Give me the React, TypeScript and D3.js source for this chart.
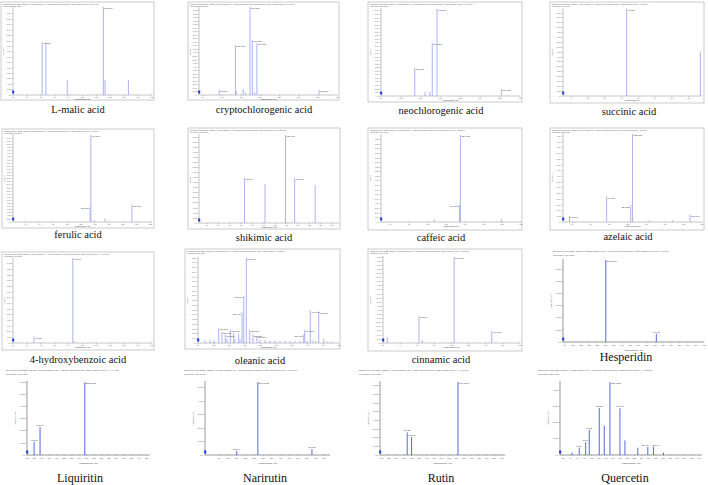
import React from "react";
import * as d3 from "d3";

type Peak = [number, number, number]; // m/z, intensity, annotated (1 = yes)

// ---------- data (m/z, intensity, annotated) ----------
const lMalicPeaks: Peak[] = [
  [71.0129, 19500, 1], [73.74, 19400, 0], [89.0244, 5500, 0],
  [115.0037, 32500, 1], [116.2, 5500, 0], [133.0142, 5600, 0],
];
const cryptoPeaks: Peak[] = [
  [93.0346, 7500, 1], [135.0452, 71000, 1], [137.0244, 6000, 0], [155.035, 8500, 0],
  [161.0244, 3500, 0], [173.0455, 125000, 1], [179.035, 78000, 1], [185.02, 3500, 0],
  [191.0561, 74000, 1], [353.0878, 7500, 1],
];
const neoPeaks: Peak[] = [
  [135.0452, 8000, 1], [161.0244, 1200, 0], [173.0455, 1200, 0],
  [179.035, 15000, 1], [191.0561, 24500, 1], [353.0878, 1900, 1],
];
const succinicPeaks: Peak[] = [[73.029, 8900, 1], [117.0188, 4550, 0]];
const ferulicPeaks: Peak[] = [
  [133.03, 9500, 1], [134.037, 56000, 1], [139.0, 1100, 0], [154.5, 2200, 0], [193.0506, 11200, 1],
];
const shikimicPeaks: Peak[] = [
  [93.0346, 4440, 1], [111.0088, 3830, 0], [129.0193, 8700, 1], [137.0244, 4440, 1], [155.035, 3740, 0],
];
const caffeicPeaks: Peak[] = [
  [107.0502, 5700, 0], [134.0373, 38000, 1], [135.0452, 190000, 1], [179.035, 5700, 0],
];
const azelaicPeaks: Peak[] = [
  [57.0346, 5400, 1], [97.0659, 22300, 1], [123.0815, 14600, 1], [125.0972, 77000, 1],
  [143.1, 1500, 0], [168.3, 1500, 0], [187.0976, 6500, 1],
];
const hydroxybenzoicPeaks: Peak[] = [[65.0396, 11400, 1], [93.0346, 150000, 1], [94.038, 2200, 0]];
const oleanicPeaks: Peak[] = [
  [72.3, 500, 0], [88.3, 700, 0], [101.1, 600, 0], [116.1, 3150, 1], [126.6, 2340, 1],
  [137.1, 1800, 1], [142.6, 900, 0], [153.1, 2790, 1], [163.9, 2160, 0], [168.1, 800, 0],
  [179.9, 1980, 0], [184.1, 700, 0], [190.4, 6480, 1], [195.9, 10000, 1], [204.2, 18000, 1],
  [215.0, 2790, 1], [225.5, 1800, 1], [238.3, 1440, 1], [247.9, 700, 0], [263.8, 600, 0],
  [279.8, 500, 0], [295.8, 500, 0], [311.7, 400, 0], [327.7, 450, 0], [343.6, 400, 0],
  [359.6, 400, 0], [375.6, 500, 0], [387.4, 1800, 1], [390.6, 2790, 1], [397.9, 500, 0],
  [408.4, 6840, 1], [417.1, 500, 0], [426.6, 400, 0], [435.3, 6660, 1], [451.2, 900, 0],
  [461.7, 350, 0], [474.5, 300, 0],
];
const cinnamicPeaks: Peak[] = [
  [25.0, 7300, 0], [62.0, 33000, 1], [65.9, 3100, 0], [103.0553, 105000, 1], [147.0452, 15200, 1],
];
const hesperidinPeaks: Peak[] = [[301.0718, 3380, 1], [609.1825, 340, 1]];
const liquiritinPeaks: Peak[] = [[119.0502, 1100, 1], [135.0088, 2300, 1], [255.0663, 6000, 1]];
const narirutinPeaks: Peak[] = [[151.0037, 300, 1], [271.0612, 5400, 1], [579.1719, 430, 1]];
const rutinPeaks: Peak[] = [[271.0248, 2600, 1], [300.0274, 2100, 1], [609.1461, 8400, 1]];
const quercetinPeaks: Peak[] = [
  [45.0, 150, 0], [65.0037, 450, 1], [83.0139, 800, 1], [93.0346, 1550, 1], [121.0295, 2900, 1],
  [135.0, 1800, 0], [151.0037, 4500, 1], [178.9977, 2880, 1], [193.0, 900, 0],
  [229.0142, 450, 0], [257.0452, 500, 1], [273.0405, 500, 1], [301.0354, 150, 0],
];

const captions = [
  "L-malic acid", "cryptochlorogenic acid", "neochlorogenic acid", "succinic acid",
  "ferulic acid", "shikimic acid", "caffeic acid", "azelaic acid",
  "4-hydroxybenzoic acid", "oleanic acid", "cinnamic acid", "Hesperidin",
  "Liquiritin", "Narirutin", "Rutin", "Quercetin",
];
const precursors = [
  "133.0", "353.1", "353.1", "117.0", "193.1", "173.0", "179.0", "187.1",
  "137.0", "455.4", "147.0", "609.2", "417.1", "579.2", "609.1", "301.0",
];

// ---------- layout ----------
type Rect = { x: number; y: number; w: number; h: number };
type Plot = { l: number; r: number; t: number; b: number };
type Panel = {
  peaks: Peak[];
  xDomain: [number, number];
  kind: "boxed" | "open";
  box: Rect;
  plot: Plot;
  cap: [number, number, number];
};

const panels: Panel[] = [
  { peaks: lMalicPeaks, xDomain: [50, 150], kind: "boxed", box: { x: 1, y: 2, w: 153, h: 98 }, plot: { l: 13, r: 152, t: 7, b: 95 }, cap: [78, 113, 10.5] },
  { peaks: cryptoPeaks, xDomain: [40, 400], kind: "boxed", box: { x: 188, y: 2, w: 151, h: 98 }, plot: { l: 199, r: 337, t: 7, b: 95 }, cap: [264, 113, 10.5] },
  { peaks: neoPeaks, xDomain: [50, 400], kind: "boxed", box: { x: 368, y: 2, w: 154, h: 100 }, plot: { l: 381, r: 520, t: 9, b: 96 }, cap: [441, 114, 10.5] },
  { peaks: succinicPeaks, xDomain: [35, 118], kind: "boxed", box: { x: 550, y: 2, w: 154, h: 101 }, plot: { l: 563, r: 702, t: 9, b: 96 }, cap: [629, 115, 10.5] },
  { peaks: ferulicPeaks, xDomain: [22, 222], kind: "boxed", box: { x: 2, y: 129, w: 152, h: 99 }, plot: { l: 13, r: 152, t: 135, b: 222 }, cap: [78, 238, 10.5] },
  { peaks: shikimicPeaks, xDomain: [53, 176], kind: "boxed", box: { x: 188, y: 128, w: 152, h: 101 }, plot: { l: 199, r: 339, t: 135, b: 223 }, cap: [264, 241, 10.5] },
  { peaks: caffeicPeaks, xDomain: [50, 200], kind: "boxed", box: { x: 368, y: 128, w: 154, h: 102 }, plot: { l: 381, r: 521, t: 135, b: 222 }, cap: [441, 241, 10.5] },
  { peaks: azelaicPeaks, xDomain: [50, 200], kind: "boxed", box: { x: 550, y: 128, w: 154, h: 102 }, plot: { l: 563, r: 702, t: 134, b: 222 }, cap: [628, 240, 10.5] },
  { peaks: hydroxybenzoicPeaks, xDomain: [50, 150], kind: "boxed", box: { x: 2, y: 252, w: 152, h: 98 }, plot: { l: 13, r: 152, t: 258, b: 343 }, cap: [78, 363, 10.5] },
  { peaks: oleanicPeaks, xDomain: [50, 500], kind: "boxed", box: { x: 185, y: 249, w: 155, h: 100 }, plot: { l: 198, r: 339, t: 258, b: 343 }, cap: [260, 364, 10.5] },
  { peaks: cinnamicPeaks, xDomain: [20, 180], kind: "boxed", box: { x: 368, y: 249, w: 154, h: 102 }, plot: { l: 383, r: 520, t: 257, b: 343 }, cap: [441, 363, 10.5] },
  { peaks: hesperidinPeaks, xDomain: [40, 900], kind: "open", box: { x: 551, y: 249, w: 153, h: 102 }, plot: { l: 563, r: 704, t: 260, b: 342 }, cap: [626, 361, 12] },
  { peaks: liquiritinPeaks, xDomain: [100, 430], kind: "open", box: { x: 4, y: 368, w: 148, h: 100 }, plot: { l: 27, r: 150, t: 382, b: 455 }, cap: [80, 482, 12] },
  { peaks: narirutinPeaks, xDomain: [-30, 682], kind: "open", box: { x: 182, y: 368, w: 150, h: 100 }, plot: { l: 205, r: 330, t: 382, b: 455 }, cap: [265, 482, 12] },
  { peaks: rutinPeaks, xDomain: [90, 922], kind: "open", box: { x: 357, y: 368, w: 150, h: 100 }, plot: { l: 380, r: 505, t: 382, b: 455 }, cap: [441, 482, 12] },
  { peaks: quercetinPeaks, xDomain: [11, 409], kind: "open", box: { x: 536, y: 368, w: 168, h: 100 }, plot: { l: 560, r: 702, t: 382, b: 455 }, cap: [625, 482, 12] },
];

const sans = { fontFamily: "Arial, 'Liberation Sans', sans-serif" };
const serif = { fontFamily: "'Liberation Serif', 'Times New Roman', Times, serif" };
const sci = (d: number) => (d === 0 ? "0.0" : d3.format(".1e")(d).replace("+", ""));

function PanelView({ p, i }: { p: Panel; i: number }) {
  const { box, plot } = p;
  const x = d3.scaleLinear().domain(p.xDomain).range([plot.l, plot.r]);
  const maxI = d3.max(p.peaks, (d) => d[1]) as number;
  const y = d3.scaleLinear().domain([0, maxI]).range([plot.b, plot.t]);
  const boxed = p.kind === "boxed";
  const tiny = boxed ? 2.0 : 2.4;
  const yt = y.ticks(boxed ? 20 : 6).filter((t) => y(t) >= box.y + (boxed ? 8 : 10));
  const xt = x.ticks(boxed ? 10 : 16).filter((t) => t > 0);
  const peakColor = boxed ? "#a4a9f0" : "#4257e0";
  const header1 = `Spectrum from 2020_sample_${i + 1}.wiff (sample ${i + 1}) - ${captions[i]}, Experiment 2, -ESI Product (${precursors[i]}) : ${(2 + i * 0.37).toFixed(2)} min`;
  const header2 = `Precursor: ${precursors[i]} Da`;
  const side = (k: number) => {
    const [m, v] = p.peaks[k];
    const px = x(m);
    return p.peaks.some((q, j) => j !== k && q[1] > v && x(q[0]) - px > 0 && x(q[0]) - px <= 3.5);
  };
  const labeledNear = (k: number, dir: number) => {
    const px = x(p.peaks[k][0]);
    return p.peaks.some((q, j) => {
      if (j === k || !q[2] || q[1] >= maxI * 0.9) return false;
      const dx = (x(q[0]) - px) * dir;
      return dx > 0 && dx < 8 && Math.abs(y(q[1]) - y(p.peaks[k][1])) < 4;
    });
  };
  const axisColor = boxed ? "#8a8a8a" : "#333";
  return (
    <g>
      {boxed && (
        <rect x={box.x} y={box.y} width={box.w} height={box.h} fill="#fff" stroke="#a8a8a8" strokeWidth={0.6} />
      )}
      <text x={box.x + 2} y={box.y + (boxed ? 2.6 : 3)} fontSize={tiny} fill="#555" style={sans}>{header1}</text>
      <text x={box.x + 2} y={box.y + (boxed ? 5.4 : 6.6)} fontSize={tiny} fill="#555" style={sans}>{header2}</text>
      <line x1={plot.l} x2={plot.l} y1={plot.t - 1} y2={plot.b} stroke={axisColor} strokeWidth={0.5} />
      <line x1={plot.l} x2={plot.r} y1={plot.b} y2={plot.b} stroke={axisColor} strokeWidth={0.5} />
      {yt.map((t) => (
        <g key={"y" + t}>
          <line x1={plot.l - 1.2} x2={plot.l} y1={y(t)} y2={y(t)} stroke="#777" strokeWidth={0.3} />
          <text x={plot.l - 1.8} y={y(t) + 0.7} fontSize={tiny * 0.9} textAnchor="end" fill="#555" style={sans}>{sci(t)}</text>
        </g>
      ))}
      {xt.map((t) => (
        <g key={"x" + t}>
          <line x1={x(t)} x2={x(t)} y1={plot.b} y2={plot.b + 1.2} stroke="#777" strokeWidth={0.3} />
          <text x={x(t)} y={plot.b + (boxed ? 3 : 4)} fontSize={tiny * 0.9} textAnchor="middle" fill="#555" style={sans}>{t}</text>
        </g>
      ))}
      <text x={(plot.l + plot.r) / 2} y={plot.b + (boxed ? 5.3 : 8.5)} fontSize={tiny} textAnchor="middle" fill="#444" style={sans}>Mass/Charge, Da</text>
      <text transform={`translate(${boxed ? box.x + 3 : plot.l - 11},${(plot.t + plot.b) / 2}) rotate(-90)`} fontSize={tiny} textAnchor="middle" fill="#444" style={sans}>{boxed ? "Intensity" : "Intensity, cps"}</text>
      {p.peaks.map((d, k) => (
        <line key={"p" + k} x1={x(d[0])} x2={x(d[0])} y1={plot.b} y2={y(d[1])} stroke={peakColor} strokeWidth={0.9} />
      ))}
      {p.peaks.map((d, k) => {
        if (!d[2]) return null;
        const px = x(d[0]);
        const py = y(d[1]);
        if (!boxed && d[1] < maxI * 0.9) {
          const rightN = labeledNear(k, 1);
          const leftN = labeledNear(k, -1);
          const anchor = rightN && !leftN ? "end" : leftN && !rightN ? "start" : "middle";
          const lx = anchor === "end" ? px + 0.8 : anchor === "start" ? px - 0.8 : px;
          return <text key={"l" + k} x={lx} y={py - 1} fontSize={tiny * 0.8} textAnchor={anchor} fill="#333" style={sans}>{d[0].toFixed(3)}</text>;
        }
        const left = side(k);
        return (
          <text key={"l" + k} x={left ? px - 1 : px + 1} y={py + 2.2} fontSize={tiny} textAnchor={left ? "end" : "start"} fill="#333" style={sans}>{d[0].toFixed(4)}</text>
        );
      })}
      <rect x={plot.l - 0.8} y={plot.b - 4.5} width={2} height={3} fill="#1f35d6" />
      <text x={p.cap[0]} y={p.cap[1]} fontSize={p.cap[2]} textAnchor="middle" fill="#111" style={serif}>{captions[i]}</text>
    </g>
  );
}

export default function App() {
  return (
    <svg width={708} height={485} viewBox="0 0 708 485" style={{ position: "absolute", left: 0, top: 0, background: "#fff" }}>
      <rect width={708} height={485} fill="#fff" />
      {panels.map((p, i) => (
        <PanelView key={i} p={p} i={i} />
      ))}
    </svg>
  );
}
